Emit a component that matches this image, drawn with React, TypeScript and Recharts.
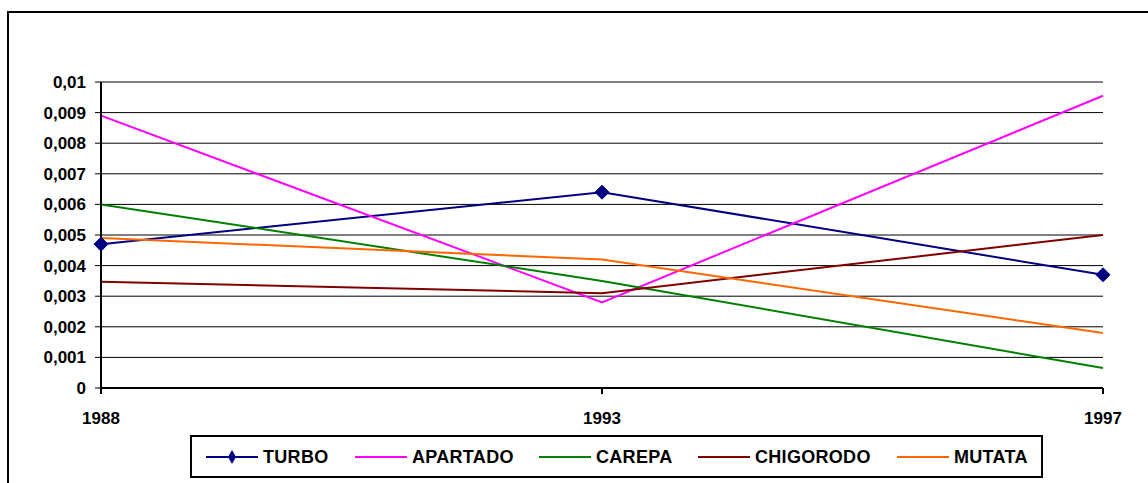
import React from 'react';
import { LineChart, Line, XAxis, YAxis, CartesianGrid, Legend } from 'recharts';

const years = ['1988', '1993', '1997'];
const turbo = [0.0047, 0.0064, 0.0037];
const apartado = [0.0089, 0.0028, 0.00955];
const carepa = [0.006, 0.0035, 0.00065];
const chigorodo = [0.00347, 0.0031, 0.005];
const mutata = [0.0049, 0.0042, 0.0018];

const yTicks = [0, 0.001, 0.002, 0.003, 0.004, 0.005, 0.006, 0.007, 0.008, 0.009, 0.01];
const yTickLabels = ['0', '0,001', '0,002', '0,003', '0,004', '0,005', '0,006', '0,007', '0,008', '0,009', '0,01'];

const seriesNames = ['TURBO', 'APARTADO', 'CAREPA', 'CHIGORODO', 'MUTATA'];
const seriesColors = ['#000080', '#FF00FF', '#008000', '#800000', '#FF6600'];
const seriesValues = [turbo, apartado, carepa, chigorodo, mutata];

const data = years.map((year, i) => {
  const row: Record<string, string | number> = { year };
  seriesNames.forEach((name, s) => {
    row[name] = seriesValues[s][i];
  });
  return row;
});

const FONT = "Arial, 'Liberation Sans', sans-serif";
const legendItemLeft = [14, 163, 347, 506, 705];

const Diamond = (props: any) => {
  const { cx, cy, key } = props;
  if (cx == null || cy == null) return null;
  const r = 7;
  return (
    <path
      key={key ?? `d-${cx}-${cy}`}
      d={`M${cx},${cy - r} L${cx + r},${cy} L${cx},${cy + r} L${cx - r},${cy} Z`}
      fill="#000080"
      stroke="#000080"
    />
  );
};

const LegendBox = () => (
  <div
    style={{
      position: 'relative',
      boxSizing: 'border-box',
      width: 853,
      height: 43,
      border: '2px solid #000',
      fontFamily: FONT,
      fontWeight: 'bold',
      fontSize: 18,
      color: '#000',
      background: '#fff',
    }}
  >
    {seriesNames.map((name, i) => (
      <div
        key={name}
        style={{ position: 'absolute', left: legendItemLeft[i], top: 11, display: 'flex', alignItems: 'center', whiteSpace: 'nowrap' }}
      >
        <svg width={52} height={16} style={{ display: 'block' }}>
          <line x1={0} y1={8} x2={52} y2={8} stroke={seriesColors[i]} strokeWidth={2} />
          {i === 0 && <path d="M26,1 L30,8 L26,15 L22,8 Z" fill="#000080" />}
        </svg>
        <span style={{ marginLeft: 5, lineHeight: '18px', letterSpacing: 0.3 }}>{name}</span>
      </div>
    ))}
  </div>
);

export default function App() {
  return (
    <div style={{ position: 'absolute', left: 0, top: 0, width: 1148, height: 483, background: '#fff', overflow: 'hidden' }}>
      <div
        style={{
          position: 'absolute',
          left: 7,
          top: 11,
          width: 1200,
          height: 600,
          borderLeft: '2px solid #000',
          borderTop: '2px solid #000',
        }}
      />
      <div style={{ position: 'absolute', left: 0, top: 0 }}>
        <LineChart width={1148} height={483} data={data} margin={{ top: 82, right: 45, left: 11, bottom: 22 }}>
          <CartesianGrid vertical={false} stroke="#000" strokeWidth={1} strokeDasharray="" />
          <XAxis
            dataKey="year"
            height={30}
            padding={{ left: 0, right: 0 }}
            axisLine={{ stroke: '#000', strokeWidth: 2 }}
            tickLine={{ stroke: '#000', strokeWidth: 2 }}
            tickSize={6}
            tickMargin={18}
            tick={{ fill: '#000', fontSize: 17, fontWeight: 'bold', fontFamily: FONT }}
            interval={0}
          />
          <YAxis
            width={90}
            domain={[0, 0.01]}
            ticks={yTicks}
            interval={0}
            tickFormatter={(v: number) => yTickLabels[yTicks.indexOf(v)] ?? String(v)}
            axisLine={{ stroke: '#000', strokeWidth: 2 }}
            tickLine={{ stroke: '#000', strokeWidth: 1 }}
            tickSize={6}
            tickMargin={9}
            tick={{ fill: '#000', fontSize: 17, fontWeight: 'bold', fontFamily: FONT }}
          />
          <Legend
            verticalAlign="bottom"
            content={() => <LegendBox />}
            wrapperStyle={{ position: 'absolute', left: 190, top: 435, bottom: 'auto', width: 853, height: 43 }}
          />
          {seriesNames.map((name, i) => (
            <Line
              key={name}
              type="linear"
              dataKey={name}
              stroke={seriesColors[i]}
              strokeWidth={2}
              dot={i === 0 ? (p: any) => <Diamond {...p} /> : false}
              activeDot={false}
              isAnimationActive={false}
            />
          ))}
        </LineChart>
      </div>
    </div>
  );
}
